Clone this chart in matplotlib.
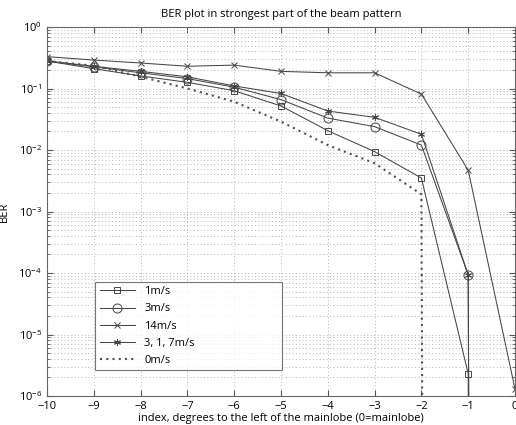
import numpy as np
import matplotlib
matplotlib.use("Agg")
import matplotlib.pyplot as plt
from matplotlib.ticker import LogLocator, FixedLocator

plt.rcParams['font.family'] = ['Open Sans', 'DejaVu Sans']
plt.rcParams['mathtext.fontset'] = 'custom'
plt.rcParams['mathtext.rm'] = 'Open Sans'

TINY = 1e-200  # stands for zero BER (drawn as a vertical drop on the log axis)

x_1 = [-10, -9, -8, -7, -6, -5, -4, -3, -2, -1, 0]
ber_1ms = [0.28, 0.21, 0.16, 0.126, 0.092, 0.052, 0.0206, 0.0094, 0.0035, 2.3e-6, TINY]
ber_3ms = [0.28, 0.225, 0.18, 0.145, 0.105, 0.066, 0.033, 0.024, 0.012, 9.3e-5, TINY]
ber_14ms = [0.33, 0.29, 0.26, 0.23, 0.24, 0.19, 0.18, 0.18, 0.081, 0.0047, 1.3e-6]
ber_317ms = [0.28, 0.23, 0.19, 0.155, 0.11, 0.083, 0.043, 0.034, 0.018, 9.3e-5, TINY]
x_0 = [-10, -9, -8, -7, -6, -5, -4, -3, -2, -1]
ber_0ms = [0.28, 0.235, 0.156, 0.10, 0.061, 0.029, 0.012, 0.0061, 0.0019, TINY]

labels = ['1m/s', '3m/s', '14m/s', '3, 1, 7m/s', '0m/s']
xticks = list(range(-10, 1))

fig = plt.figure(figsize=(5.16, 4.25), dpi=100)
ax = fig.add_axes([47/516, 29/425, 468/516, 369/425])

lc = '#454545'
lw = 0.75
ms = 5
ax.plot(x_1, ber_1ms, color=lc, lw=lw, marker='s', ms=ms, mfc='none', mew=0.7, label=labels[0])
ax.plot(x_1, ber_3ms, color=lc, lw=lw, marker='o', ms=ms+1.5, mfc='none', mew=0.7, label=labels[1])
ax.plot(x_1, ber_14ms, color=lc, lw=lw, marker='x', ms=ms-0.5, mfc='none', mew=0.7, label=labels[2])
ax.plot(x_1, ber_317ms, color=lc, lw=lw, marker=(6, 2, 0), ms=ms, mfc='none', mew=0.7, label=labels[3])
ax.plot(x_0, ber_0ms, color='#505050', lw=1.5, ls=(0, (1, 2)), label=labels[4])

ax.set_yscale('log')
ax.set_xlim(-10, 0)
ax.set_ylim(1e-6, 1)
ax.xaxis.set_major_locator(FixedLocator(xticks))
ax.yaxis.set_major_locator(LogLocator(base=10, numticks=10))
ax.yaxis.set_minor_locator(LogLocator(base=10, subs=np.arange(2, 10), numticks=20))

gc = '#b4b4b4'
ax.grid(True, which='major', color=gc, ls=(0, (1, 2.5)), lw=0.7)
ax.grid(True, which='minor', axis='y', color=gc, ls=(0, (1, 2.5)), lw=0.7)

ax.tick_params(which='both', direction='in', top=True, right=True, labelsize=8, color='#555555')
ax.tick_params(which='major', length=4)
ax.tick_params(which='minor', length=2)
ax.tick_params(axis='y', which='minor', labelleft=False)
for s in ax.spines.values():
    s.set_color('#666666')
    s.set_linewidth(0.8)

ax.set_title('BER plot in strongest part of the beam pattern', fontsize=8, pad=7)
ax.set_xlabel('index, degrees to the left of the mainlobe (0=mainlobe)', fontsize=8, labelpad=1)
ax.set_ylabel('BER', fontsize=8, labelpad=6)

leg = ax.legend(loc='lower left', bbox_to_anchor=(0.103, 0.07, 0.399, 0.209), mode='expand',
                fontsize=8, frameon=True, fancybox=False, edgecolor='#555555',
                handlelength=3.2, labelspacing=0.55, borderaxespad=0, handletextpad=0.8)
leg.get_frame().set_linewidth(0.8)

fig.savefig('out.png', dpi=100)
